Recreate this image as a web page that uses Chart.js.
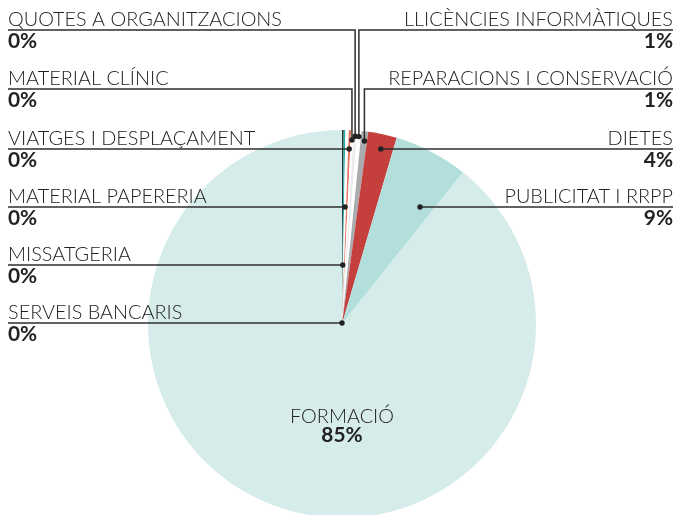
<!DOCTYPE html>
<html><head><meta charset="utf-8">
<script src="https://cdn.jsdelivr.net/npm/chart.js@4/dist/chart.umd.min.js"></script>
<style>
html,body{margin:0;padding:0;background:#fff;overflow:hidden;width:678px;height:515px}
#wrap{position:relative;width:678px;height:515px;overflow:hidden}
canvas{display:block}
</style></head>
<body><div id="wrap"><canvas id="c" width="678" height="520"></canvas></div>
<script>
// ---- data ----
const categories = ["SERVEIS BANCARIS","MISSATGERIA","MATERIAL PAPERERIA","VIATGES I DESPLAÇAMENT","MATERIAL CLÍNIC","QUOTES A ORGANITZACIONS","LLICÈNCIES INFORMÀTIQUES","REPARACIONS I CONSERVACIÓ","DIETES","PUBLICITAT I RRPP","FORMACIÓ"];
const values = [0.14,0.14,0.28,0.19,0.22,0.28,0.36,0.55,2.39,6.17,89.28];
const percentLabels = ["0%","0%","0%","0%","0%","0%","1%","1%","4%","9%","85%"];

// ---- styles / layout ----
const colors = ["#333333","#1fb0aa","#ffffff","#e2735f","#ffffff","#ececec","#ffffff","#a9abae","#c5403d","#b2dfdc","#d6ecea"];
const labelLayout = {
  0:{side:"left", y:323, mode:"ray", f:0.5},
  1:{side:"left", y:265, mode:"ray", f:0.5},
  2:{side:"left", y:207, mode:"ray", f:0.5},
  3:{side:"left", y:149, mode:"ray", f:0.5},
  4:{side:"left", y:89, mode:"drop", f:0.5, r:0.95},
  5:{side:"left", y:30, mode:"drop", f:0.5, r:0.97},
  6:{side:"right", y:30, mode:"drop", f:0.5, r:0.97},
  7:{side:"right", y:89, mode:"drop", f:0.6, r:0.95},
  8:{side:"right", y:149, mode:"ray", f:0.55},
  9:{side:"right", y:207, mode:"ray", f:0.78},
  10:{side:"center", y:423}
};
const FAM = "Lato, 'Open Sans', 'DejaVu Sans', sans-serif";
const TXT = "#222222", LINE = "#2e2e2e";

const labelPlugin = {
  id: "labels",
  afterDraw(chart){
    const ctx = chart.ctx;
    const meta = chart.getDatasetMeta(0);
    ctx.save();
    ctx.font = "300 19.5px " + FAM;
    const sx = Math.min(1.3, Math.max(0.8, 274 / ctx.measureText("QUOTES A ORGANITZACIONS").width));
    const txt = (s, x, y, align, font) => {
      ctx.save(); ctx.font = font; ctx.textAlign = align; ctx.textBaseline = "alphabetic";
      ctx.fillStyle = TXT; ctx.translate(x, y); ctx.scale(sx, 1); ctx.fillText(s, 0, 0); ctx.restore();
    };
    const nameFont = "300 19.5px " + FAM, pctFont = "700 20.5px " + FAM;
    const LX = 8, RX = 673;
    meta.data.forEach((arc, i) => {
      const L = labelLayout[i]; if (!L) return;
      const p = arc.getProps(["x","y","startAngle","endAngle","outerRadius"], true);
      const cx = p.x, cy = p.y, R = p.outerRadius;
      if (L.side === "center") {
        txt(categories[i], cx, L.y, "center", nameFont);
        txt(percentLabels[i], cx, L.y + 19, "center", pctFont);
        return;
      }
      const a = p.startAngle + L.f * (p.endAngle - p.startAngle);
      let dx, dy;
      if (L.mode === "ray") {
        dy = L.y;
        if (Math.abs(dy - cy) < 0.5) dx = cx;
        else { const t = (dy - cy) / Math.sin(a); dx = cx + t * Math.cos(a); }
      } else {
        dx = cx + L.r * R * Math.cos(a); dy = cy + L.r * R * Math.sin(a);
      }
      ctx.strokeStyle = LINE; ctx.lineWidth = 1.5;
      ctx.beginPath();
      if (L.side === "left") { ctx.moveTo(LX, L.y); ctx.lineTo(dx, L.y); }
      else { ctx.moveTo(RX, L.y); ctx.lineTo(dx, L.y); }
      if (L.mode === "drop") ctx.lineTo(dx, dy);
      ctx.stroke();
      ctx.fillStyle = "#222";
      ctx.beginPath(); ctx.arc(dx, dy, 2.7, 0, Math.PI * 2); ctx.fill();
      const ax = L.side === "left" ? LX : RX, al = L.side === "left" ? "left" : "right";
      txt(categories[i], ax, L.y - 4, al, nameFont);
      txt(percentLabels[i], ax, L.y + 17.5, al, pctFont);
    });
    ctx.restore();
  }
};

new Chart(document.getElementById("c"), {
  type: "pie",
  data: { labels: categories, datasets: [{ data: values, backgroundColor: colors, borderWidth: 0, hoverOffset: 0 }] },
  options: {
    responsive: false, animation: false,
    layout: { padding: { top: 130, bottom: 2, left: 6, right: 0 } },
    plugins: { legend: { display: false }, tooltip: { enabled: false } },
    events: []
  },
  plugins: [labelPlugin]
});
</script>
</body></html>
